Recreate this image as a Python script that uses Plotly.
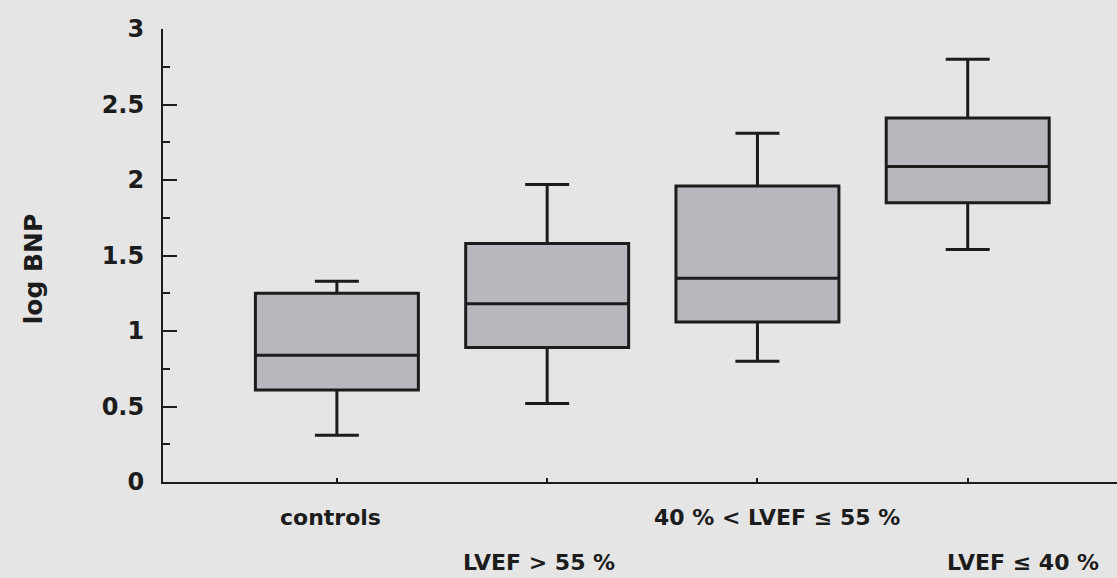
import plotly.graph_objects as go

# ---- data ----
categories = ["controls", "LVEF > 55 %", "40 % < LVEF \u2264 55 %", "LVEF \u2264 40 %"]
positions = [0, 1, 2, 3]
lower_whisker = [0.31, 0.52, 0.80, 1.54]
q1_values = [0.61, 0.89, 1.06, 1.85]
median_values = [0.84, 1.18, 1.35, 2.09]
q3_values = [1.25, 1.58, 1.96, 2.41]
upper_whisker = [1.33, 1.97, 2.31, 2.80]
y_tick_values = [0, 0.5, 1, 1.5, 2, 2.5, 3]
y_tick_labels = ["0", "0.5", "1", "1.5", "2", "2.5", "3"]

INK = "#1c1c1c"
BG = "#e5e5e5"
FILL = "#b7b7bd"
FONT = "DejaVu Sans"

fig = go.Figure()
fig.add_trace(go.Box(
    x=positions,
    q1=q1_values,
    median=median_values,
    q3=q3_values,
    lowerfence=lower_whisker,
    upperfence=upper_whisker,
    width=0.775,
    whiskerwidth=0.27,
    fillcolor=FILL,
    line=dict(color=INK, width=3),
    boxpoints=False,
    hoverinfo="skip",
    showlegend=False,
))

# staggered category labels (row, horizontal nudge)
label_rows = [0, 1, 0, 1]
label_nudge = [-6, -8, 20, 55]
for pos, text, row, dx in zip(positions, categories, label_rows, label_nudge):
    fig.add_annotation(
        x=pos, y=0, xref="x", yref="y",
        text="<b>%s</b>" % text,
        showarrow=False,
        xanchor="center", yanchor="middle",
        xshift=dx, yshift=-35 - 45 * row,
        font=dict(family=FONT, size=22, color=INK),
    )

# y-axis title
fig.add_annotation(
    x=-0.136, y=0.47, xref="paper", yref="paper",
    text="<b>log BNP</b>", textangle=-90,
    showarrow=False, xanchor="center", yanchor="middle",
    font=dict(family=FONT, size=25, color=INK),
)

fig.update_layout(
    width=1117, height=578,
    margin=dict(l=163, r=0, t=29, b=96),
    paper_bgcolor=BG, plot_bgcolor=BG,
    font=dict(family=FONT, color=INK),
    xaxis=dict(
        range=[-0.827, 3.71],
        showgrid=False, zeroline=False,
        showline=True, linecolor=INK, linewidth=2,
        ticks="inside", ticklen=4, tickwidth=2, tickcolor=INK,
        tickvals=positions, showticklabels=False,
    ),
    yaxis=dict(
        range=[0, 3],
        showgrid=False, zeroline=False,
        showline=True, linecolor=INK, linewidth=2,
        ticks="inside", ticklen=14, tickwidth=2, tickcolor=INK,
        tickvals=y_tick_values, ticktext=["<b>%s</b>" % t for t in y_tick_labels],
        tickfont=dict(family=FONT, size=24, color=INK),
        ticklabelstandoff=12,
        minor=dict(ticks="inside", ticklen=7, tickwidth=2, tickcolor=INK, dtick=0.25),
    ),
)

fig.write_html("out.html")
